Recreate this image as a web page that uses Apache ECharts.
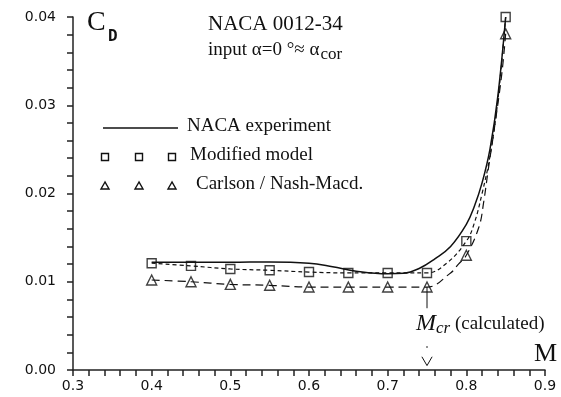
<!DOCTYPE html>
<html>
<head>
<meta charset="utf-8">
<script src="https://cdn.jsdelivr.net/npm/echarts@6/dist/echarts.min.js"></script>
<style>
  html, body { margin: 0; padding: 0; background: #fff; }
  #chart { width: 561px; height: 397px; }
</style>
</head>
<body>
<div id="chart"></div>
<script>
// Drag coefficient of NACA 0012-34 versus Mach number

// Axis ticks
const xTicks = [0.3, 0.4, 0.5, 0.6, 0.7, 0.8, 0.9];
const yTicks = [0.00, 0.01, 0.02, 0.03, 0.04];

// NACA experiment (continuous curve)
const expM  = [0.40, 0.45, 0.50, 0.55, 0.60, 0.63, 0.66, 0.70, 0.72, 0.74, 0.76, 0.78, 0.80, 0.81, 0.82, 0.83, 0.84, 0.85];
const expCd = [0.0122, 0.0122, 0.0122, 0.01225, 0.0121, 0.0117, 0.0112, 0.0109, 0.01095, 0.0115, 0.0126, 0.0140, 0.0165, 0.0185, 0.0212, 0.0250, 0.0310, 0.0400];

// Modified model: computed points and the fitted curve through them
const modM  = [0.40, 0.45, 0.50, 0.55, 0.60, 0.65, 0.70, 0.75, 0.80, 0.85];
const modCd = [0.0121, 0.0118, 0.01145, 0.0113, 0.0111, 0.0110, 0.0110, 0.0110, 0.0146, 0.0400];
const modCurveM  = [0.40, 0.45, 0.50, 0.55, 0.60, 0.65, 0.70, 0.75, 0.775, 0.80, 0.81, 0.82, 0.83, 0.84, 0.85];
const modCurveCd = [0.0121, 0.0118, 0.01145, 0.0113, 0.0111, 0.0110, 0.0110, 0.0110, 0.0121, 0.0146, 0.0166, 0.0200, 0.0242, 0.0305, 0.0400];

// Carlson / Nash-Macdonald: computed points and curve
const carM  = [0.40, 0.45, 0.50, 0.55, 0.60, 0.65, 0.70, 0.75, 0.80, 0.85];
const carCd = [0.0102, 0.0100, 0.0097, 0.0096, 0.0094, 0.0094, 0.0094, 0.0094, 0.0130, 0.0381];
const carCurveM  = [0.40, 0.45, 0.50, 0.55, 0.60, 0.65, 0.70, 0.75, 0.78, 0.79, 0.80, 0.816, 0.822, 0.828, 0.835, 0.845, 0.85];
const carCurveCd = [0.0102, 0.0100, 0.0097, 0.0096, 0.0094, 0.0094, 0.0094, 0.0094, 0.0110, 0.0120, 0.0130, 0.0162, 0.0190, 0.0228, 0.0270, 0.0335, 0.0381];

// Critical Mach number marker
const mcr = 0.75;
const mcrPointer = [[mcr, 0.0094], [mcr, 0.0070]];
const mcrCaret = [[mcr - 0.0065, 0.0015], [mcr, 0.0005], [mcr + 0.0065, 0.0015]];
const mcrDot = [[mcr, 0.0026]];

const zip = (a, b) => a.map((v, i) => [v, b[i]]);

const SERIF = '"Liberation Serif", "Times New Roman", serif';
const SANS = '"DejaVu Sans", Verdana, sans-serif';
const INK = '#111';

const chart = echarts.init(document.getElementById('chart'), null, { renderer: 'canvas' });

chart.setOption({
  animation: false,
  backgroundColor: '#fff',
  grid: { left: 73, right: 16, top: 17, bottom: 27, containLabel: false },
  xAxis: {
    type: 'value',
    min: xTicks[0], max: xTicks[xTicks.length - 1], interval: 0.1,
    axisLine: { show: true, lineStyle: { color: '#222', width: 1.5 } },
    axisTick: { show: true, length: 6, inside: false, lineStyle: { color: '#222', width: 1.5 } },
    minorTick: { show: true, splitNumber: 5, length: 6, lineStyle: { color: '#222', width: 1.5 } },
    splitLine: { show: false },
    axisLabel: {
      margin: 9, color: INK, fontFamily: SANS, fontSize: 14,
      formatter: v => v.toFixed(1)
    }
  },
  yAxis: {
    type: 'value',
    min: yTicks[0], max: yTicks[yTicks.length - 1], interval: 0.01,
    axisLine: { show: true, lineStyle: { color: '#222', width: 1.5 } },
    axisTick: { show: true, length: 6, lineStyle: { color: '#222', width: 1.5 } },
    minorTick: { show: true, splitNumber: 5, length: 6, lineStyle: { color: '#222', width: 1.5 } },
    splitLine: { show: false },
    axisLabel: {
      margin: 17, color: INK, fontFamily: SANS, fontSize: 14,
      formatter: v => v.toFixed(2)
    }
  },
  series: [
    {
      name: 'NACA experiment', type: 'line', data: zip(expM, expCd),
      smooth: 0.4, showSymbol: false,
      lineStyle: { color: INK, width: 1.5 }
    },
    {
      name: 'Modified model curve', type: 'line', data: zip(modCurveM, modCurveCd),
      smooth: 0.4, showSymbol: false,
      lineStyle: { color: INK, width: 1.2, type: [4, 3] }
    },
    {
      name: 'Carlson curve', type: 'line', data: zip(carCurveM, carCurveCd),
      smooth: 0.4, showSymbol: false,
      lineStyle: { color: INK, width: 1.2, type: [8, 5] }
    },
    {
      name: 'Modified model', type: 'scatter', data: zip(modM, modCd),
      symbol: 'rect', symbolSize: 9, z: 5,
      itemStyle: { color: 'transparent', borderColor: INK, borderWidth: 1.4 }
    },
    {
      name: 'Carlson / Nash-Macd.', type: 'scatter', data: zip(carM, carCd),
      symbol: 'triangle', symbolSize: 10, z: 5,
      itemStyle: { color: 'transparent', borderColor: INK, borderWidth: 1.4 }
    },
    {
      name: 'Mcr pointer', type: 'line', data: mcrPointer, showSymbol: false,
      lineStyle: { color: INK, width: 1 }
    },
    {
      name: 'Mcr caret', type: 'line', data: mcrCaret, showSymbol: false,
      lineStyle: { color: INK, width: 1 }
    },
    {
      name: 'Mcr dot', type: 'scatter', data: mcrDot, symbol: 'rect', symbolSize: 1.5,
      itemStyle: { color: INK }
    }
  ],
  graphic: [
    // axis names
    {
      type: 'text', left: 87, top: 9,
      style: { text: 'C', fontFamily: SERIF, fontSize: 28, fill: INK }
    },
    {
      type: 'text', left: 108, top: 29,
      style: { text: 'D', fontFamily: '"DejaVu Sans Mono", "Liberation Mono", monospace', fontWeight: 'bold', fontSize: 16, fill: INK }
    },
    {
      type: 'text', left: 534, top: 341,
      style: { text: 'M', fontFamily: SERIF, fontSize: 26, fill: INK }
    },
    // title
    {
      type: 'text', left: 208, top: 14,
      style: { text: 'NACA 0012-34', fontFamily: SERIF, fontSize: 21, fill: INK }
    },
    {
      type: 'text', left: 208, top: 41,
      style: {
        text: '{t|input \u03b1=0 \u00b0\u2248 \u03b1}{s|cor}',
        rich: {
          t: { fontFamily: SERIF, fontSize: 19, fill: INK },
          s: { fontFamily: SERIF, fontSize: 17, fill: INK, padding: [9, 0, 0, 1] }
        }
      }
    },
    // legend
    {
      type: 'line', shape: { x1: 103, y1: 128, x2: 178, y2: 128 },
      style: { stroke: INK, lineWidth: 1.5 }
    },
    {
      type: 'text', left: 187, top: 117,
      style: { text: 'NACA experiment', fontFamily: SERIF, fontSize: 19, fill: INK }
    },
    ...[105, 139, 172].map(x => ({
      type: 'rect', shape: { x: x - 3.5, y: 153.5, width: 7, height: 7 },
      style: { fill: 'none', stroke: INK, lineWidth: 1.4 }
    })),
    {
      type: 'text', left: 190, top: 146,
      style: { text: 'Modified model', fontFamily: SERIF, fontSize: 19, fill: INK }
    },
    ...[105, 139, 172].map(x => ({
      type: 'polygon', shape: { points: [[x, 182], [x - 4, 189], [x + 4, 189]] },
      style: { fill: 'none', stroke: INK, lineWidth: 1.4 }
    })),
    {
      type: 'text', left: 196, top: 175,
      style: { text: 'Carlson / Nash-Macd.', fontFamily: SERIF, fontSize: 19, fill: INK }
    },
    // critical Mach label
    {
      type: 'text', left: 416, top: 312,
      style: {
        text: '{m|M}{s|cr}{t| (calculated)}',
        rich: {
          m: { fontFamily: SERIF, fontStyle: 'italic', fontSize: 24, fill: INK },
          s: { fontFamily: SERIF, fontStyle: 'italic', fontSize: 17, fill: INK, padding: [9, 0, 0, 0] },
          t: { fontFamily: SERIF, fontSize: 19, fill: INK }
        }
      }
    }
  ]
});
</script>
</body>
</html>
